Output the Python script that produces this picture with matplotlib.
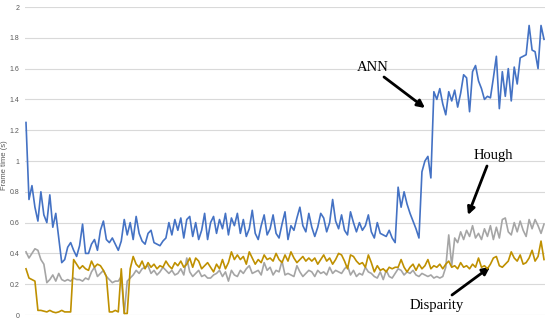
import numpy as np
import matplotlib
matplotlib.use("Agg")
import matplotlib.pyplot as plt

# ---- data (frame times in seconds) ----
ann = [1.25, 0.75, 0.84, 0.70, 0.61, 0.80, 0.65, 0.60, 0.78, 0.57, 0.66, 0.50,
       0.34, 0.36, 0.44, 0.47, 0.42, 0.38, 0.45, 0.59, 0.40, 0.40, 0.46, 0.49, 0.42, 0.55, 0.61, 0.49, 0.47, 0.50, 0.46, 0.42,
       0.48, 0.62, 0.52, 0.60, 0.49, 0.64, 0.53, 0.48, 0.46, 0.53, 0.55, 0.47, 0.46, 0.45, 0.48, 0.50, 0.60, 0.52, 0.62, 0.55,
       0.63, 0.50, 0.62, 0.64, 0.51, 0.60, 0.49, 0.55, 0.66, 0.49, 0.60, 0.64, 0.53,
       0.62, 0.56, 0.66, 0.52, 0.63, 0.58, 0.66, 0.53, 0.62, 0.51, 0.56, 0.68, 0.53, 0.49, 0.58, 0.65, 0.52, 0.56, 0.65, 0.53,
       0.50, 0.59, 0.67, 0.49, 0.58, 0.55, 0.63, 0.70, 0.58, 0.54, 0.66, 0.57, 0.51,
       0.57, 0.66, 0.63, 0.54, 0.60, 0.75, 0.61, 0.56, 0.65, 0.55, 0.52, 0.67, 0.60, 0.54, 0.60, 0.55, 0.58, 0.65, 0.54, 0.50,
       0.60, 0.53, 0.52, 0.51, 0.55, 0.50, 0.47,
       0.83, 0.70, 0.80, 0.72, 0.66, 0.61, 0.56, 0.50, 0.93, 1.00, 1.03, 0.89,
       1.45, 1.40, 1.47, 1.37, 1.30, 1.45, 1.39, 1.46, 1.35, 1.44, 1.56, 1.54, 1.32, 1.58, 1.62, 1.52, 1.47, 1.40, 1.42, 1.41,
       1.54, 1.68, 1.34, 1.58, 1.42, 1.60, 1.39, 1.61, 1.50, 1.67, 1.68, 1.69, 1.88, 1.72, 1.71, 1.60, 1.88, 1.79]

hough = [0.41, 0.37, 0.40, 0.43, 0.42, 0.36, 0.33, 0.21, 0.23, 0.26, 0.22, 0.27, 0.23, 0.22, 0.23, 0.22, 0.24, 0.23, 0.23,
         0.22, 0.24, 0.23, 0.28, 0.31, 0.25, 0.27, 0.29, 0.25, 0.23, 0.21, 0.22, 0.22,
         0.25, 0.01,
         0.22, 0.24, 0.26, 0.29, 0.27, 0.30, 0.31, 0.32, 0.27, 0.29, 0.26, 0.28, 0.31, 0.29, 0.27, 0.29, 0.26, 0.27, 0.30, 0.26,
         0.37, 0.28, 0.25, 0.27, 0.29, 0.25, 0.26, 0.24, 0.24, 0.26,
         0.27, 0.29, 0.25, 0.28, 0.22, 0.29, 0.26, 0.25, 0.29, 0.27, 0.30, 0.32, 0.27, 0.28, 0.29, 0.26, 0.34, 0.29, 0.31, 0.26,
         0.29, 0.28, 0.35, 0.26, 0.27, 0.26, 0.25, 0.32, 0.28, 0.25, 0.27, 0.29,
         0.28, 0.25, 0.29, 0.27, 0.28, 0.26, 0.31, 0.27, 0.29, 0.28, 0.27, 0.30, 0.32, 0.26, 0.29, 0.25, 0.27, 0.26, 0.31, 0.28,
         0.27, 0.25, 0.24, 0.28, 0.23, 0.29, 0.25, 0.24, 0.27, 0.30,
         0.29, 0.26, 0.28, 0.27, 0.29, 0.26, 0.25, 0.27, 0.26, 0.25, 0.26, 0.24, 0.25, 0.24, 0.25, 0.31,
         0.52, 0.32, 0.50, 0.47, 0.54, 0.49, 0.55, 0.51, 0.58, 0.50, 0.53, 0.49, 0.56, 0.51, 0.58, 0.49, 0.57, 0.50, 0.62, 0.63,
         0.54, 0.52, 0.60, 0.54, 0.61, 0.55, 0.51, 0.62, 0.56, 0.62, 0.58, 0.53, 0.59]

disparity = [0.30, 0.24, 0.23, 0.22, 0.03, 0.03, 0.025, 0.02, 0.03, 0.02, 0.015, 0.02, 0.03, 0.02, 0.02, 0.02,
             0.36, 0.33, 0.30, 0.32, 0.30, 0.29, 0.35, 0.31, 0.33, 0.32, 0.29, 0.25, 0.02, 0.02, 0.03, 0.02, 0.30, 0.01, 0.01, 0.30,
             0.38, 0.33, 0.31, 0.35, 0.30, 0.34, 0.31, 0.33, 0.30, 0.32, 0.31, 0.35, 0.32, 0.30, 0.34, 0.32, 0.35, 0.31, 0.33, 0.37,
             0.31, 0.37, 0.35, 0.30, 0.32, 0.34, 0.31, 0.28, 0.33,
             0.30, 0.36, 0.30, 0.34, 0.41, 0.36, 0.39, 0.36, 0.38, 0.33, 0.41, 0.37, 0.33, 0.36, 0.34, 0.39, 0.36, 0.37, 0.35, 0.40,
             0.36, 0.34, 0.39, 0.35, 0.41, 0.37, 0.34, 0.36, 0.38, 0.35, 0.37,
             0.35, 0.37, 0.33, 0.36, 0.39, 0.35, 0.37, 0.33, 0.36, 0.40, 0.39, 0.35, 0.30, 0.39, 0.38, 0.35, 0.33, 0.34, 0.31, 0.39,
             0.34, 0.28, 0.32, 0.29, 0.30, 0.28, 0.31, 0.30, 0.31,
             0.31, 0.36, 0.31, 0.28, 0.31, 0.33, 0.29, 0.33, 0.30, 0.32, 0.36, 0.30, 0.32, 0.31, 0.33, 0.30, 0.33, 0.35, 0.31, 0.32,
             0.30, 0.34, 0.31, 0.32, 0.30, 0.33, 0.31, 0.37, 0.31, 0.32, 0.30, 0.33, 0.37, 0.38, 0.32, 0.31, 0.33, 0.35, 0.41, 0.37,
             0.35, 0.39, 0.33, 0.34, 0.37, 0.42, 0.35, 0.38, 0.48, 0.36]

y_ticks = [0, 0.2, 0.4, 0.6, 0.8, 1, 1.2, 1.4, 1.6, 1.8, 2]
y_tick_labels = ["0", "0.2", "0.4", "0.6", "0.8", "1", "1.2", "1.4", "1.6", "1.8", "2"]
y_label = "Frame time (s)"
annotations = ["ANN", "Hough", "Disparity"]

assert len(ann) == len(hough) == len(disparity)
n = len(ann)
x = np.arange(n)

W, H = 550, 322
fig = plt.figure(figsize=(W / 100, H / 100), dpi=100)
ax = fig.add_axes([25 / W, 7 / H, 520 / W, 308 / H])

ax.plot(x, hough, color="#A5A5A5", lw=1.2, zorder=3)
ax.plot(x, disparity, color="#BF9000", lw=1.2, zorder=4)
ax.plot(x, ann, color="#4472C4", lw=1.2, zorder=5)

step = 518 / (n - 1)
ax.set_xlim(-1 / step, n - 1 + 1 / step)
ax.set_ylim(0, 2)
ax.set_yticks(y_ticks)
ax.set_yticklabels(y_tick_labels, family="Liberation Sans")
ax.set_xticks([])
ax.tick_params(axis="y", length=0, labelsize=5, colors="#595959", pad=4)
ax.grid(axis="y", color="#D9D9D9", lw=0.8)
ax.set_axisbelow(True)
for s in ax.spines.values():
    s.set_visible(False)
ax.set_ylabel(y_label, fontsize=5.5, color="#595959", family="Liberation Sans")
ax.yaxis.label.set_va("center")
ax.yaxis.set_label_coords((5 - 25) / 520, (315 - 165) / 308)

def fp(px, py):
    return (px, H - py)

serif = "Liberation Serif"
arrow = dict(arrowstyle="-|>", lw=2.0, color="black", mutation_scale=11, shrinkA=0, shrinkB=0)
# ANN
fig.text(373 / W, 1 - 68 / H, annotations[0], ha="center", va="center", fontsize=10.5, family=serif)
ax.annotate("", xy=fp(425, 108), xytext=fp(384, 77), xycoords="figure pixels", textcoords="figure pixels", arrowprops=arrow)
# Hough
fig.text(493 / W, 1 - 155 / H, annotations[1], ha="center", va="center", fontsize=10.5, family=serif)
ax.annotate("", xy=fp(468, 215), xytext=fp(487, 166), xycoords="figure pixels", textcoords="figure pixels", arrowprops=arrow)
# Disparity
fig.text(437 / W, 1 - 305 / H, annotations[2], ha="center", va="center", fontsize=10.5, family=serif)
ax.annotate("", xy=fp(490, 267), xytext=fp(452, 295), xycoords="figure pixels", textcoords="figure pixels", arrowprops=arrow)

fig.savefig("out.png", dpi=100)
